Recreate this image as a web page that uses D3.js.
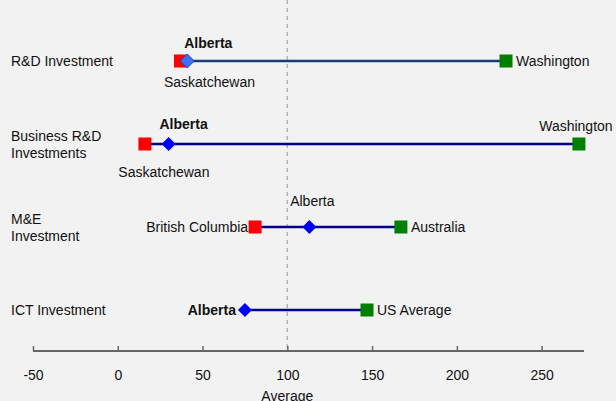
<!DOCTYPE html>
<html><head><meta charset="utf-8">
<script src="https://cdn.jsdelivr.net/npm/d3@7"></script>
<style>
html,body{margin:0;padding:0;background:#f2f2f2;}
svg{display:block;font-family:"Liberation Sans",Arial,sans-serif;}
</style></head>
<body>
<svg id="c" width="616" height="401"></svg>
<script>
const categories = [["R&D Investment"], ["Business R&D","Investments"], ["M&E","Investment"], ["ICT Investment"]];
const albertaValues = [41, 30, 113, 75];
const lowValues = [37, 16, 81, null];
const lowLabels = ["Saskatchewan", "Saskatchewan", "British Columbia", null];
const highValues = [229, 272, 167, 147];
const highLabels = ["Washington", "Washington", "Australia", "US Average"];
const xTicks = [-50, 0, 50, 100, 150, 200, 250];
const averageValue = 100;

// label placement (style only)
const albertaPos = ["above", "above", "above", "left"];
const albertaBold = [true, true, false, true];
const albertaDx = [21, 15, 3, 0];
const albertaDy = [-13, -15, -21, 0];
const lowPos = ["below", "below", "left", null];
const lowDx = [29, 19, 0, 0];
const lowDy = [26, 33, 0, 0];
const highPos = ["right", "above", "right", "right"];

const FS = 14;
const svg = d3.select("#c");
const x = d3.scaleLinear().domain([-50, 275]).range([33, 584]);
const y = d3.scalePoint().domain(d3.range(categories.length)).range([61, 310]);

// average dashed line
svg.append("line").attr("x1", x(averageValue)).attr("x2", x(averageValue))
  .attr("y1", 0).attr("y2", 351).attr("stroke", "#b4b4b4").attr("stroke-width", 1.5)
  .attr("stroke-dasharray", "4,4");

// axis
const axis = d3.axisBottom(x).tickValues(xTicks).tickSize(-5).tickPadding(19).tickFormat(d => String(d));
const ag = svg.append("g").attr("transform", "translate(0,351)").call(axis);
ag.select(".domain").attr("stroke", "#666").attr("stroke-width", 2).attr("d", `M${x(-50)},0H${x(275)}`);
ag.selectAll(".tick line").attr("stroke", "#666").attr("stroke-width", 1.5).attr("y2", -5);
ag.selectAll(".tick text").attr("font-size", FS).attr("fill", "#111").attr("font-family", "Liberation Sans, Arial, sans-serif");
svg.append("text").attr("x", x(averageValue)).attr("y", 401).attr("text-anchor", "middle")
  .attr("font-size", FS).attr("fill", "#111").text("Average");

// category labels
categories.forEach((lines, i) => {
  const t = svg.append("text").attr("x", 11).attr("font-size", FS).attr("fill", "#111");
  const n = lines.length;
  lines.forEach((l, j) => {
    t.append("tspan").attr("x", 11).attr("y", y(i) + 5 + (j - (n - 1) / 2) * 17).text(l);
  });
});

function txt(str, tx, ty, anchor, bold) {
  svg.append("text").attr("x", tx).attr("y", ty).attr("text-anchor", anchor)
    .attr("font-size", FS).attr("font-weight", bold ? "bold" : "normal").attr("fill", "#111").text(str);
}

categories.forEach((c, i) => {
  const yy = y(i);
  const start = lowValues[i] != null ? Math.min(lowValues[i], albertaValues[i]) : albertaValues[i];
  svg.append("line").attr("x1", x(start)).attr("x2", x(highValues[i]))
    .attr("y1", yy).attr("y2", yy).attr("stroke", i === 0 ? "#173d74" : "#00008b").attr("stroke-width", 2.5);
  if (lowValues[i] != null) {
    svg.append("rect").attr("x", x(lowValues[i]) - 6.5).attr("y", yy - 6.5).attr("width", 13).attr("height", 13).attr("fill", "#ff0000");
  }
  svg.append("rect").attr("x", x(highValues[i]) - 6.5).attr("y", yy - 6.5).attr("width", 13).attr("height", 13).attr("fill", "#008000");
  const s = 7, ax = x(albertaValues[i]);
  svg.append("path").attr("d", `M${ax},${yy - s}L${ax + s},${yy}L${ax},${yy + s}L${ax - s},${yy}Z`)
    .attr("fill", i === 0 ? "#3f6ff5" : "#0000ff").attr("stroke", i === 0 ? "#1a3fd0" : "none").attr("stroke-width", 1);

  // labels
  if (albertaPos[i] === "above") txt("Alberta", ax + albertaDx[i], yy + albertaDy[i], "middle", albertaBold[i]);
  else txt("Alberta", ax - 9, yy + 5, "end", albertaBold[i]);

  if (lowValues[i] != null) {
    if (lowPos[i] === "below") txt(lowLabels[i], x(lowValues[i]) + lowDx[i], yy + lowDy[i], "middle", false);
    else txt(lowLabels[i], x(lowValues[i]) - 7, yy + 5, "end", false);
  }
  if (highPos[i] === "above") txt(highLabels[i], x(highValues[i]) - 3, yy - 13, "middle", false);
  else txt(highLabels[i], x(highValues[i]) + 10, yy + 5, "start", false);
});
</script>
</body></html>
